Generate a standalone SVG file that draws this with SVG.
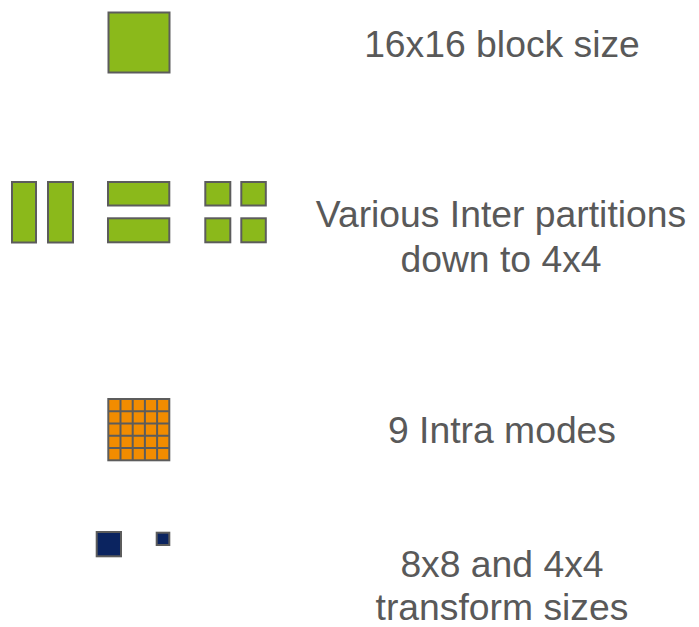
<svg xmlns="http://www.w3.org/2000/svg" width="699" height="627" viewBox="0 0 699 627">
  <style>
    .blk { stroke: #5c5c5c; stroke-width: 2; }
    .green { fill: #8BB91B; }
    .orange { fill: #F28C00; }
    .navy { fill: #0B2460; }
    .grid { stroke: #5c5c5c; stroke-width: 2; fill: none; }
    .label { font-family: "Liberation Sans", Arial, sans-serif; font-size: 37.3px; fill: #595959; text-anchor: middle; }
  </style>
  <rect width="699" height="627" fill="#ffffff"/>

  <!-- 16x16 macroblock -->
  <g id="macroblock">
    <rect class="blk green" x="108.5" y="12.5" width="61" height="60"/>
    <text class="label" x="502" y="57">16x16 block size</text>
  </g>

  <!-- inter partitions -->
  <g id="inter-partitions">
    <rect class="blk green" x="12" y="182" width="24" height="60.5"/>
    <rect class="blk green" x="48" y="182" width="25" height="60.5"/>
    <rect class="blk green" x="108" y="182" width="61.3" height="23.5"/>
    <rect class="blk green" x="108" y="218.3" width="61.3" height="24"/>
    <rect class="blk green" x="205.3" y="182" width="25" height="23.5"/>
    <rect class="blk green" x="241.3" y="182" width="24.5" height="23.5"/>
    <rect class="blk green" x="205.3" y="218.3" width="25" height="24"/>
    <rect class="blk green" x="241.3" y="218.3" width="24.5" height="24"/>
    <text class="label" x="501" y="226.5">Various Inter partitions</text>
    <text class="label" x="501" y="271.5">down to 4x4</text>
  </g>

  <!-- intra 4x4 grid -->
  <g id="intra-modes">
    <rect class="blk orange" x="108.3" y="399" width="61" height="61.3"/>
    <path class="grid" d="M120.5 399V460.3M132.7 399V460.3M144.9 399V460.3M157.1 399V460.3M108.3 411.3H169.3M108.3 423.5H169.3M108.3 435.8H169.3M108.3 448H169.3"/>
    <text class="label" x="502" y="443">9 Intra modes</text>
  </g>

  <!-- transform sizes -->
  <g id="transforms">
    <rect class="blk navy" x="96.7" y="532" width="24.3" height="24.3"/>
    <rect class="blk navy" x="156.7" y="532.7" width="12.6" height="12.3"/>
    <text class="label" x="502" y="577">8x8 and 4x4</text>
    <text class="label" x="502" y="620">transform sizes</text>
  </g>
</svg>
